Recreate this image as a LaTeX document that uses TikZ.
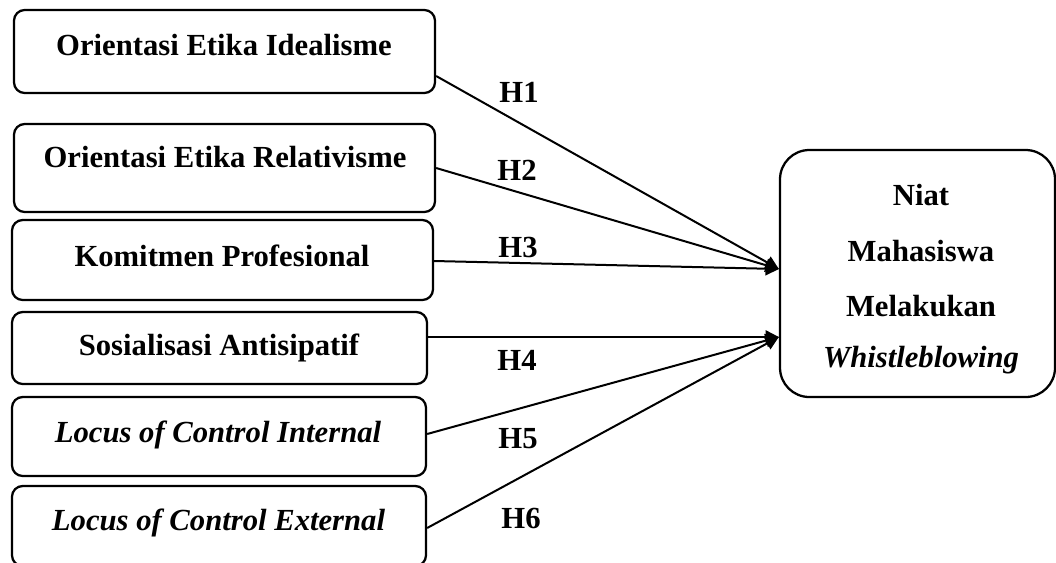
\documentclass[tikz,border=0pt]{standalone}
\usepackage{fontspec}
\setmainfont{Liberation Serif}
\usetikzlibrary{arrows.meta}
\tikzset{
  varbox/.style={draw=black, line width=1.7pt, rounded corners=8pt, fill=white, inner sep=0pt},
  mainbox/.style={draw=black, line width=1.7pt, rounded corners=22pt, fill=white, inner sep=0pt},
  boxtext/.style={anchor=base, inner sep=0pt, font=\fontsize{23}{27}\selectfont\bfseries},
  hyp/.style={anchor=base, inner sep=0pt, font=\fontsize{23}{27}\selectfont\bfseries},
  link/.style={line width=1.5pt, -{Triangle[length=10pt,width=10pt]}}
}
\begin{document}
\begin{tikzpicture}[x=0.75pt,y=-0.75pt]
\useasboundingbox (0,0) rectangle (1056,562);
% left boxes
\node[varbox, minimum width=315.75pt, minimum height=62.25pt] (b1) at (224.5,51.5) {};
\node[varbox, minimum width=315.75pt, minimum height=66pt] (b2) at (224.5,168) {};
\node[varbox, minimum width=315.75pt, minimum height=60pt] (b3) at (222.5,260) {};
\node[varbox, minimum width=311.25pt, minimum height=54pt] (b4) at (219.5,348) {};
\node[varbox, minimum width=310.5pt, minimum height=59.25pt] (b5) at (219,436.5) {};
\node[varbox, minimum width=310.5pt, minimum height=60pt] (b6) at (219,526) {};
% right box
\node[mainbox, minimum width=206.25pt, minimum height=185.25pt] (nb) at (917.5,273.5) {};
% texts
\node[boxtext] (t1) at (224,55) {Orientasi Etika Idealisme};
\node[boxtext] (t2) at (225,167) {Orientasi Etika Relativisme};
\node[boxtext] (t3) at (222,266) {Komitmen Profesional};
\node[boxtext] (t4) at (219,355) {Sosialisasi Antisipatif};
\node[boxtext] (t5) at (218,442) {\itshape Locus of Control Internal};
\node[boxtext] (t6) at (218.5,530) {\itshape Locus of Control External};
\node[boxtext] (n1) at (921,205) {Niat};
\node[boxtext] (n2) at (921,261) {Mahasiswa};
\node[boxtext] (n3) at (921,316) {Melakukan};
\node[boxtext] (n4) at (921,367) {\itshape Whistleblowing};
% targets
\coordinate (ta) at (nb.west |- 0,269);
\coordinate (tb) at (nb.west |- 0,337);
% connectors
\draw[link] (b1.east |- 0,76) -- (ta);
\draw[link] (b2.east |- 0,168) -- (ta);
\draw[link] (b3.east |- 0,261) -- (ta);
\draw[link] (b4.east |- 0,337) -- (tb);
\draw[link] (b5.east |- 0,434) -- (tb);
\draw[link] (b6.east |- 0,528) -- (tb);
% hypothesis labels
\node[hyp] (h1) at (519,102) {H1};
\node[hyp] (h2) at (517,180) {H2};
\node[hyp] (h3) at (518,257) {H3};
\node[hyp] (h4) at (517,370) {H4};
\node[hyp] (h5) at (518,448) {H5};
\node[hyp] (h6) at (521,528) {H6};
\end{tikzpicture}
\end{document}
